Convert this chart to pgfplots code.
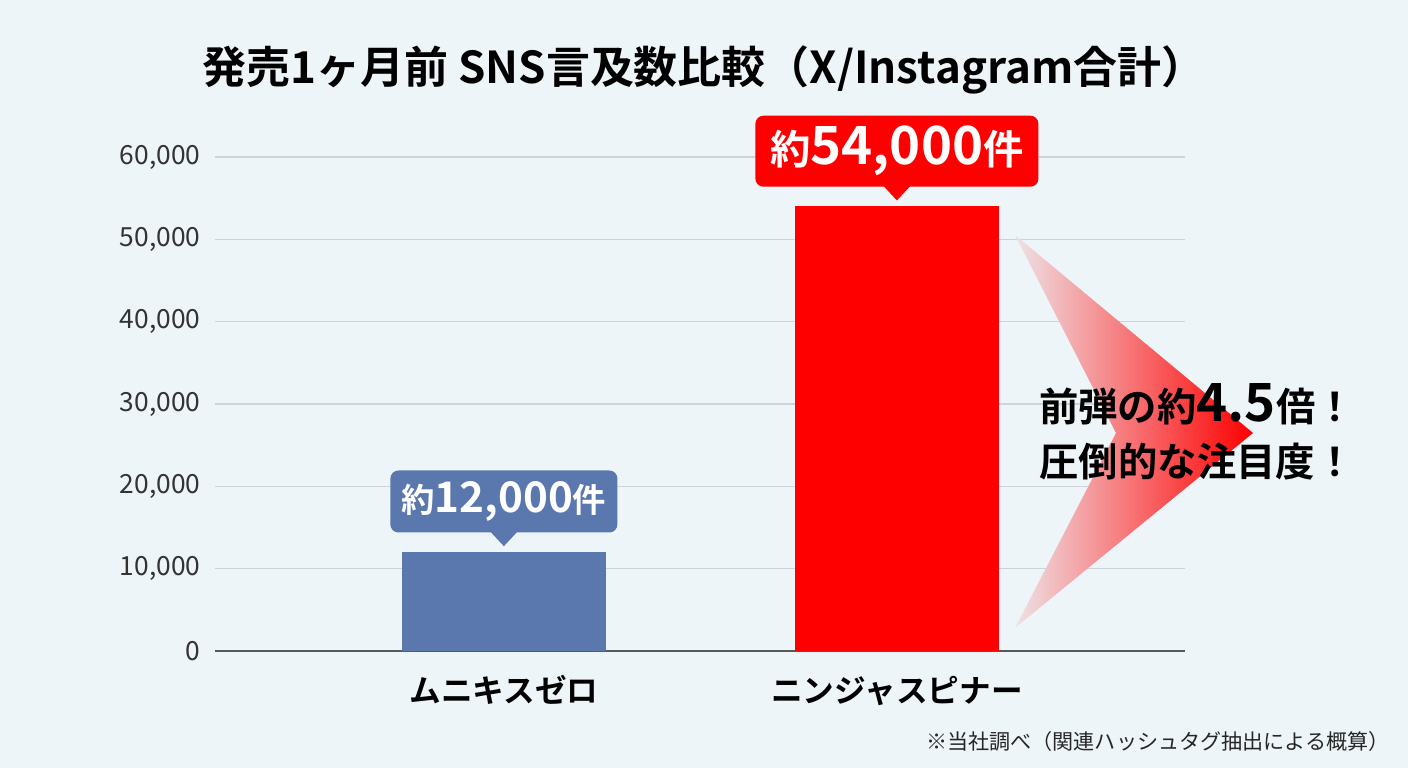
\documentclass[border=0pt]{standalone}
\usepackage{pgfplots}
\pgfplotsset{compat=1.18}
\usepackage{fontspec}
\setmainfont{Noto Sans CJK JP}[BoldFont=Noto Sans CJK JP Bold]

\definecolor{bg}{HTML}{EEF5F9}
\definecolor{barblue}{HTML}{5A78AD}
\definecolor{barred}{HTML}{FE0000}
\definecolor{gridc}{HTML}{CCD3D9}
\definecolor{ticktxt}{HTML}{333333}

% rounded label box with a small pointer under it
\tikzset{
  callout/.style={rounded corners=0.08cm, inner sep=0pt, text=white, anchor=south,
    yshift=0.19cm, fill=#1,
    append after command={\pgfextra{\fill[#1, sharp corners]
      ([xshift=-0.14cm, yshift=0.02cm]\tikzlastnode.south) --
      ([xshift=0.14cm, yshift=0.02cm]\tikzlastnode.south) --
      ([yshift=-0.13cm]\tikzlastnode.south) -- cycle;}}}
}

\begin{document}
\begin{tikzpicture}[x=1cm,y=1cm]
\useasboundingbox (0,0) rectangle (14.08,7.68);
\fill[bg] (0,0) rectangle (14.08,7.68);

\node[font=\bfseries\fontsize{12.5}{14}\selectfont, anchor=base] at (7.04,6.84)
  {発売1ヶ月前 SNS言及数比較（X/Instagram合計）};

\begin{axis}[
    at={(2.15cm,1.17cm)}, anchor=south west,
    scale only axis, width=9.70cm, height=4.94cm,
    xmin=-0.735, xmax=1.733, ymin=0, ymax=60000,
    ytick={0,10000,...,60000},
    xtick={0,1}, xticklabels={ムニキスゼロ,ニンジャスピナー},
    axis lines*=left,
    y axis line style={draw=none},
    x axis line style={draw=black!65, line width=0.6pt},
    major tick length=0pt, tick style={draw=none},
    ymajorgrids, grid style={gridc, line width=0.45pt},
    scaled y ticks=false,
    /pgf/number format/1000 sep={,},
    /pgf/number format/assume math mode=true,
    yticklabel style={font=\fontsize{7.5}{8}\selectfont, text=ticktxt, inner sep=0pt, xshift=-0.14cm},
    xticklabel style={font=\bfseries\fontsize{9}{10}\selectfont, anchor=base, yshift=-0.52cm, inner sep=0pt},
    clip=false,
]
\addplot[ybar, bar width=2.04cm, bar shift=0pt, fill=barblue, draw=none,
    nodes near coords={約{\fontsize{12}{12}\selectfont\pgfmathprintnumber{\pgfplotspointmeta}}件},
    every node near coord/.style={callout=barblue, minimum width=2.27cm, minimum height=0.62cm,
      font=\bfseries\fontsize{9.5}{10}\selectfont}]
  coordinates {(0,12000)};
\addplot[ybar, bar width=2.04cm, bar shift=0pt, fill=barred, draw=none,
    nodes near coords={約{\fontsize{15}{15}\selectfont\pgfmathprintnumber{\pgfplotspointmeta}}件},
    every node near coord/.style={callout=barred, minimum width=2.83cm, minimum height=0.71cm,
      font=\bfseries\fontsize{11.5}{12}\selectfont}]
  coordinates {(1,54000)};
\end{axis}

% chevron arrow
\shade[left color=barred!8!bg, right color=barred]
  (10.15,5.33) -- (12.53,3.35) -- (10.15,1.40) -- (11.16,3.35) -- cycle;

\node[anchor=base, font=\bfseries\fontsize{11.2}{12}\selectfont] at (11.97,3.46)
  {前弾の約{\fontsize{15}{15}\selectfont 4.5}倍！};
\node[anchor=base, font=\bfseries\fontsize{11.2}{12}\selectfont] at (11.97,2.91)
  {圧倒的な注目度！};

\node[anchor=base east, text=black!85, font=\fontsize{6}{7}\selectfont] at (14.02,0.18)
  {※当社調べ（関連ハッシュタグ抽出による概算）};
\end{tikzpicture}
\end{document}
